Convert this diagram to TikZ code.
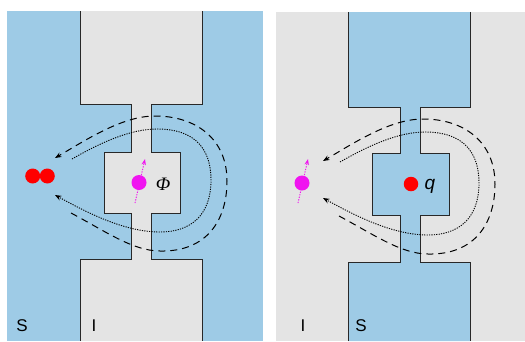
\documentclass[tikz,border=0pt]{standalone}
\usepackage{fontspec}
\setmainfont{Liberation Sans}
\newfontfamily\greekserif{Liberation Serif}
\usetikzlibrary{arrows.meta}
\definecolor{scblue}{RGB}{158,203,230}
\definecolor{insgray}{RGB}{228,228,228}
\definecolor{wallline}{RGB}{40,40,40}
\definecolor{spinmag}{RGB}{240,20,240}
\begin{document}
\begin{tikzpicture}[x=1pt,y=-1pt,
  wall/.style={draw=wallline,line width=0.9pt,line join=miter},
  tip/.style={-{Stealth[length=6.5pt,width=5pt]}},
  fieldline/.style={tip,line width=1pt,dash pattern=on 7pt off 5pt},
  fluxline/.style={tip,line width=0.9pt,dash pattern=on 1.2pt off 1.2pt},
  spinarrow/.style={draw=spinmag,line width=0.9pt,dash pattern=on 1.3pt off 1.3pt,
    -{Stealth[length=6pt,width=4.5pt]}},
  reddot/.style={circle,fill=red,inner sep=0pt,minimum size=15pt},
  magdot/.style={circle,fill=spinmag,inner sep=0pt,minimum size=15pt},
  lbl/.style={inner sep=0pt,font=\fontsize{17}{20}\selectfont},
  sym/.style={inner sep=0pt,font=\fontsize{19}{22}\selectfont}
]
\useasboundingbox (0,0) rectangle (525,341);

% ---------- left panel: superconductor around an insulating constriction ----------
\fill[scblue] (7,11) rectangle (263,341);
\fill[insgray] (80,11) -- (80,104) -- (131,104) -- (131,152) -- (104,152) -- (104,213)
  -- (131,213) -- (131,259) -- (80,259) -- (80,341) -- (202,341) -- (202,259)
  -- (151,259) -- (151,213) -- (180,213) -- (180,152) -- (151,152) -- (151,104)
  -- (202,104) -- (202,11) -- cycle;
\draw[wall] (80,11) -- (80,104) -- (131,104) -- (131,152) -- (104,152) -- (104,213)
  -- (131,213) -- (131,259) -- (80,259) -- (80,341);
\draw[wall] (202,11) -- (202,104) -- (151,104) -- (151,152) -- (180,152) -- (180,213)
  -- (151,213) -- (151,259) -- (202,259) -- (202,341);

\node[reddot] (pairA) at (32.7,176) {};
\node[reddot] (pairB) at (47.3,176) {};
\node[magdot] (vortex) at (139,182.5) {};
\coordinate (vtail) at (135,203);
\coordinate (vhead) at (145,159);
\draw[spinarrow] (vtail) -- (vhead);
\node[sym] (phi) at (163,184) {\greekserif\itshape Φ};
\node[lbl] (sL) at (22,326) {S};
\node[lbl] (iL) at (94,326) {I};

% field lines looping round the constriction
\coordinate (dS) at (71,213);
\coordinate (dB) at (160,251);
\coordinate (dR) at (227,181);
\coordinate (dT) at (155,116);
\coordinate (dE) at (55,158);
\draw[fieldline] (dS) .. controls (105,231) and (133,251) .. (dB)
  .. controls (207,252) and (227,220) .. (dR)
  .. controls (227,138) and (195,116) .. (dT)
  .. controls (122,116) and (86,140) .. (dE);
\coordinate (fS) at (72,159);
\coordinate (fT) at (157,129);
\coordinate (fR) at (211,180);
\coordinate (fB) at (160,232);
\coordinate (fE) at (55,195);
\draw[fluxline] (fS) .. controls (100,143) and (130,129) .. (fT)
  .. controls (196,129) and (211,150) .. (fR)
  .. controls (211,216) and (190,232) .. (fB)
  .. controls (124,232) and (86,212) .. (fE);

% ---------- right panel: insulator around a superconducting island ----------
\fill[insgray] (276,12) rectangle (525,341);
\fill[scblue] (348,12) -- (348,107) -- (400,107) -- (400,153) -- (372,153) -- (372,215)
  -- (400,215) -- (400,262) -- (348,262) -- (348,341) -- (470,341) -- (470,262)
  -- (420,262) -- (420,215) -- (449,215) -- (449,153) -- (420,153) -- (420,107)
  -- (470,107) -- (470,12) -- cycle;
\draw[wall] (348,12) -- (348,107) -- (400,107) -- (400,153) -- (372,153) -- (372,215)
  -- (400,215) -- (400,262) -- (348,262) -- (348,341);
\draw[wall] (470,12) -- (470,107) -- (420,107) -- (420,153) -- (449,153) -- (449,215)
  -- (420,215) -- (420,262) -- (470,262) -- (470,341);

\node[reddot,minimum size=14.5pt] (charge) at (411,184) {};
\node[sym] (qlbl) at (430,186) {\itshape q};
\node[magdot] (spin) at (302,183) {};
\coordinate (stail) at (298,203);
\coordinate (shead) at (308,159);
\draw[spinarrow] (stail) -- (shead);
\node[lbl] (iR) at (303,326) {I};
\node[lbl] (sR) at (361,326) {S};

\begin{scope}[shift={(268,3)}]
  \coordinate (rdS) at (71,213);
  \coordinate (rdB) at (160,251);
  \coordinate (rdR) at (227,181);
  \coordinate (rdT) at (155,116);
  \coordinate (rdE) at (55,158);
  \draw[fieldline] (rdS) .. controls (105,231) and (133,251) .. (rdB)
    .. controls (207,252) and (227,220) .. (rdR)
    .. controls (227,138) and (195,116) .. (rdT)
    .. controls (122,116) and (86,140) .. (rdE);
  \coordinate (rfS) at (72,159);
  \coordinate (rfT) at (157,129);
  \coordinate (rfR) at (211,180);
  \coordinate (rfB) at (160,232);
  \coordinate (rfE) at (55,195);
  \draw[fluxline] (rfS) .. controls (100,143) and (130,129) .. (rfT)
    .. controls (196,129) and (211,150) .. (rfR)
    .. controls (211,216) and (190,232) .. (rfB)
    .. controls (124,232) and (86,212) .. (rfE);
\end{scope}
\end{tikzpicture}
\end{document}
